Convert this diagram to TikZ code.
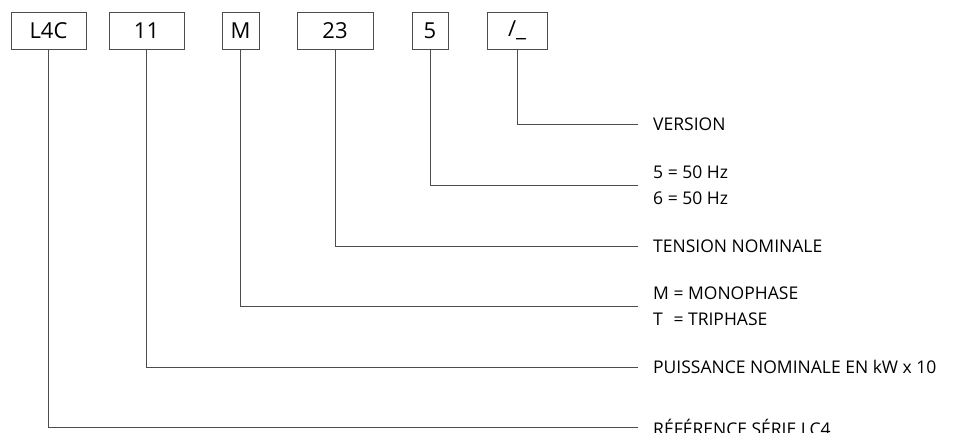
\documentclass[tikz,border=0pt]{standalone}
\usepackage{fontspec}
\setmainfont{Open Sans}
\usetikzlibrary{positioning}
\definecolor{traitgris}{rgb}{0.30,0.30,0.30}
\tikzset{
  case/.style={
    draw=traitgris,
    line width=0.8pt,
    minimum height=37pt,
    inner sep=0pt,
    font=\fontsize{22}{24}\selectfont
  },
  legende/.style={
    anchor=west,
    align=left,
    inner sep=0pt,
    font=\fontsize{17.5}{26}\selectfont
  },
  renvoi/.style={
    draw=traitgris,
    line width=0.8pt
  }
}

\begin{document}
\begin{tikzpicture}[x=1pt,y=-1pt]
\useasboundingbox (0,0) rectangle (965,432);
% cases du code
\node[case,minimum width=75pt] (serie) at (48.5,30.5) {L4C};
\node[case,minimum width=75pt] (puiss) at (146.5,30.5) {11};
\node[case,minimum width=37pt] (phase) at (240.5,30.5) {M};
\node[case,minimum width=76pt] (tens) at (335,30.5) {23};
\node[case,minimum width=36pt] (freq) at (430,30.5) {5};
\node[case,minimum width=60pt] (vers) at (517,30.5) {/\_};
% legendes
\node[legende] (lvers) at (653,124) {VERSION};
\node[legende] (lfreq) at (653,185) {5 = 50 Hz\\6 = 50 Hz};
\node[legende] (ltens) at (653,246) {TENSION NOMINALE};
\node[legende] (lphase) at (653,306) {M = MONOPHASE\\\makebox[\fontcharwd\font`M][l]{T} = TRIPHASE};
\node[legende] (lpuiss) at (653,367) {PUISSANCE NOMINALE EN kW x 10};
\node[legende] (lserie) at (653,427) {RÉFÉRENCE SÉRIE LC4};
% renvois
\draw[renvoi] (vers.south) |- ([xshift=-15pt]lvers.west);
\draw[renvoi] (freq.south) |- ([xshift=-15pt]lfreq.west);
\draw[renvoi] (tens.south) |- ([xshift=-15pt]ltens.west);
\draw[renvoi] (phase.south) |- ([xshift=-15pt]lphase.west);
\draw[renvoi] (puiss.south) |- ([xshift=-15pt]lpuiss.west);
\draw[renvoi] (serie.south) |- ([xshift=-15pt]lserie.west);
\end{tikzpicture}
\end{document}
